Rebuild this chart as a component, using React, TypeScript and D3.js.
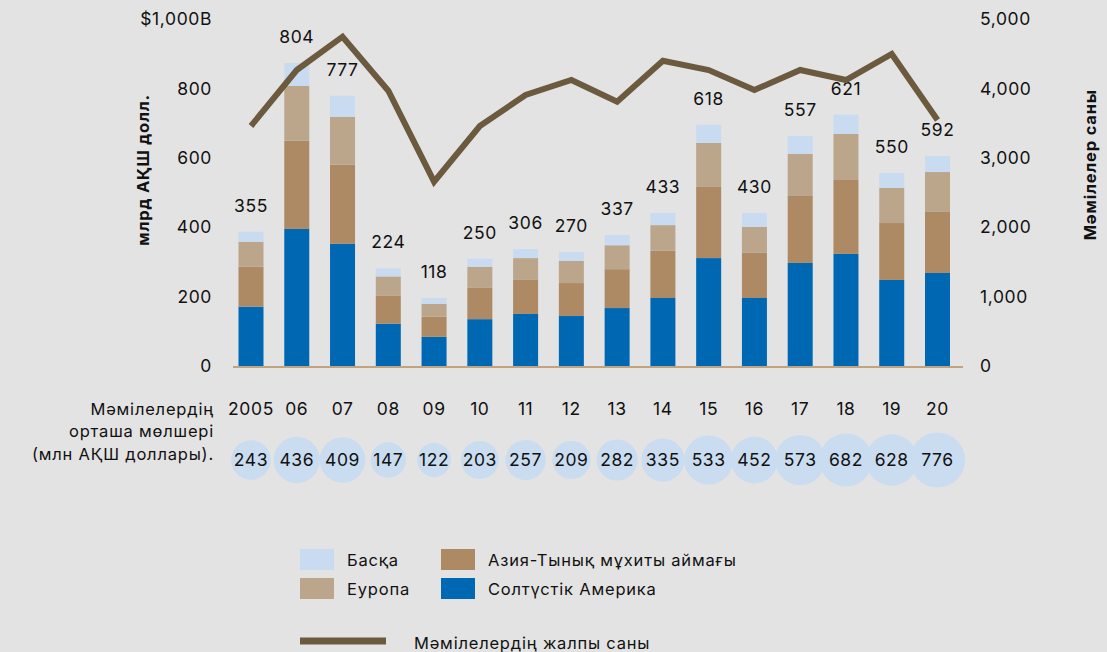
import React from "react";
import * as d3 from "d3";

const years = ["2005", "06", "07", "08", "09", "10", "11", "12", "13", "14", "15", "16", "17", "18", "19", "20"];
const northAmerica = [171, 395, 352, 122, 84, 135, 150, 144, 167, 196, 311, 196, 297, 323, 248, 268];
const asiaPacific = [115, 254, 228, 80, 58, 90, 98, 95, 112, 136, 205, 130, 193, 213, 164, 176];
const europe = [72, 158, 138, 56, 37, 61, 63, 64, 69, 74, 127, 75, 121, 133, 101, 115];
const other = [29, 66, 61, 23, 17, 23, 26, 25, 29, 35, 52, 40, 52, 55, 43, 46];
const totalLabels = [355, 804, 777, 224, 118, 250, 306, 270, 337, 433, 618, 430, 557, 621, 550, 592];
const dealCount = [3458, 4265, 4745, 3967, 2656, 3458, 3905, 4121, 3808, 4399, 4265, 3977, 4265, 4121, 4496, 3545];
const avgDealSize = [243, 436, 409, 147, 122, 203, 257, 209, 282, 335, 533, 452, 573, 682, 628, 776];
const leftTicks = [0, 200, 400, 600, 800, 1000];
const rightTicks = [0, 1000, 2000, 3000, 4000, 5000];

const seriesKeys = ["na", "asia", "eu", "other"];
const seriesNames: Record<string, string> = {
  other: "Басқа",
  eu: "Еуропа",
  asia: "Азия-Тынық мұхиты аймағы",
  na: "Солтүстік Америка",
};
const colors: Record<string, string> = {
  other: "#c8dbf0",
  eu: "#bba68c",
  asia: "#ad8964",
  na: "#0068b2",
};
const lineColor = "#6b5a3e";
const axisColor = "#c2a37f";
const bubbleColor = "#c9dcf0";
const FONT = "Inter, 'Noto Sans', 'DejaVu Sans', sans-serif";

export default function App() {
  const W = 1107, H = 652;
  const x = d3.scalePoint<string>().domain(years).range([251, 937.5]);
  const y = d3.scaleLinear().domain([0, 1000]).range([366, 19]);
  const y2 = d3.scaleLinear().domain([0, 5000]).range([366, 19]);
  const r = d3.scaleSqrt().domain([0, 800]).range([10, 27.8]);
  const barW = 25;

  const rows = years.map((yr, i) => ({
    year: yr,
    na: northAmerica[i],
    asia: asiaPacific[i],
    eu: europe[i],
    other: other[i],
  }));
  const stacked = d3.stack<any>().keys(seriesKeys)(rows);

  const line = d3
    .line<number>()
    .x((_, i) => x(years[i])!)
    .y((d) => y2(d));

  const fmt = d3.format(",");
  const numFS = 17.5;
  const numLS = 0.6;
  const txtFS = 16.5;
  const txtLS = 0.8;

  return (
    <svg width={W} height={H} style={{ position: "absolute", left: 0, top: 0 }} fontFamily={FONT}>
      <rect x={0} y={0} width={W} height={H} fill="#e3e3e3" />

      {/* bars */}
      {stacked.map((s) => (
        <g key={s.key} fill={colors[s.key]}>
          {s.map((d, i) => (
            <rect
              key={i}
              x={x(years[i])! - barW / 2}
              y={y(d[1])}
              width={barW}
              height={y(d[0]) - y(d[1])}
            />
          ))}
        </g>
      ))}

      {/* baseline */}
      <line x1={233} x2={963} y1={y(0) + 1} y2={y(0) + 1} stroke={axisColor} strokeWidth={2} />

      {/* total labels */}
      {totalLabels.map((v, i) => {
        const top = stacked[stacked.length - 1][i][1];
        return (
          <text key={i} x={x(years[i])} y={y(top) - 20} textAnchor="middle" fontSize={numFS} letterSpacing={numLS} fill="#111">
            {v}
          </text>
        );
      })}

      {/* line */}
      <path d={line(dealCount)!} fill="none" stroke={lineColor} strokeWidth={6} strokeLinejoin="miter" />

      {/* left axis */}
      {leftTicks.map((t) => (
        <text key={t} x={212} y={y(t)} dy="0.35em" textAnchor="end" fontSize={numFS} letterSpacing={numLS} fill="#111">
          {t === 1000 ? "$1,000B" : fmt(t)}
        </text>
      ))}
      <text
        transform={`translate(149,${y(565)}) rotate(-90)`}
        textAnchor="middle"
        fontSize={txtFS}
        fontWeight="bold"
        letterSpacing={txtLS}
        fill="#111"
      >
        млрд АҚШ долл.
      </text>

      {/* right axis */}
      {rightTicks.map((t) => (
        <text key={t} x={980} y={y2(t)} dy="0.35em" textAnchor="start" fontSize={numFS} letterSpacing={numLS} fill="#111">
          {fmt(t)}
        </text>
      ))}
      <text
        transform={`translate(1096,${y2(2900)}) rotate(-90)`}
        textAnchor="middle"
        fontSize={txtFS}
        fontWeight="bold"
        letterSpacing={txtLS}
        fill="#111"
      >
        Мәмілелер саны
      </text>

      {/* years */}
      {years.map((yr) => (
        <text key={yr} x={x(yr)} y={409} dy="0.35em" textAnchor="middle" fontSize={numFS} letterSpacing={numLS} fill="#111">
          {yr}
        </text>
      ))}

      {/* bubbles */}
      {avgDealSize.map((v, i) => (
        <circle key={i} cx={x(years[i])} cy={460} r={r(v)} fill={bubbleColor} />
      ))}
      {avgDealSize.map((v, i) => (
        <text key={i} x={x(years[i])} y={460} dy="0.35em" textAnchor="middle" fontSize={numFS} letterSpacing={numLS} fill="#111">
          {v}
        </text>
      ))}

      {/* row label */}
      <g fontSize={txtFS} fill="#111" textAnchor="end" letterSpacing={txtLS}>
        <text x={214} y={409} dy="0.35em">Мәмілелердің</text>
        <text x={214} y={431} dy="0.35em">орташа мөлшері</text>
        <text x={214} y={454} dy="0.35em">(млн АҚШ доллары).</text>
      </g>

      {/* legend */}
      {[
        { k: "other", col: 0, row: 0 },
        { k: "eu", col: 0, row: 1 },
        { k: "asia", col: 1, row: 0 },
        { k: "na", col: 1, row: 1 },
      ].map(({ k, col, row }) => {
        const lx = col === 0 ? 300 : 441;
        const ly = row === 0 ? 549 : 578;
        return (
          <g key={k}>
            <rect x={lx} y={ly} width={34} height={21} fill={colors[k]} />
            <text x={lx + 47} y={ly + 11} dy="0.35em" fontSize={txtFS} letterSpacing={txtLS} fill="#111">
              {seriesNames[k]}
            </text>
          </g>
        );
      })}
      <line x1={300} x2={386} y1={641} y2={641} stroke={lineColor} strokeWidth={7} />
      <text x={414} y={643} dy="0.35em" fontSize={txtFS} letterSpacing={txtLS} fill="#111">
        Мәмілелердің жалпы саны
      </text>
    </svg>
  );
}
